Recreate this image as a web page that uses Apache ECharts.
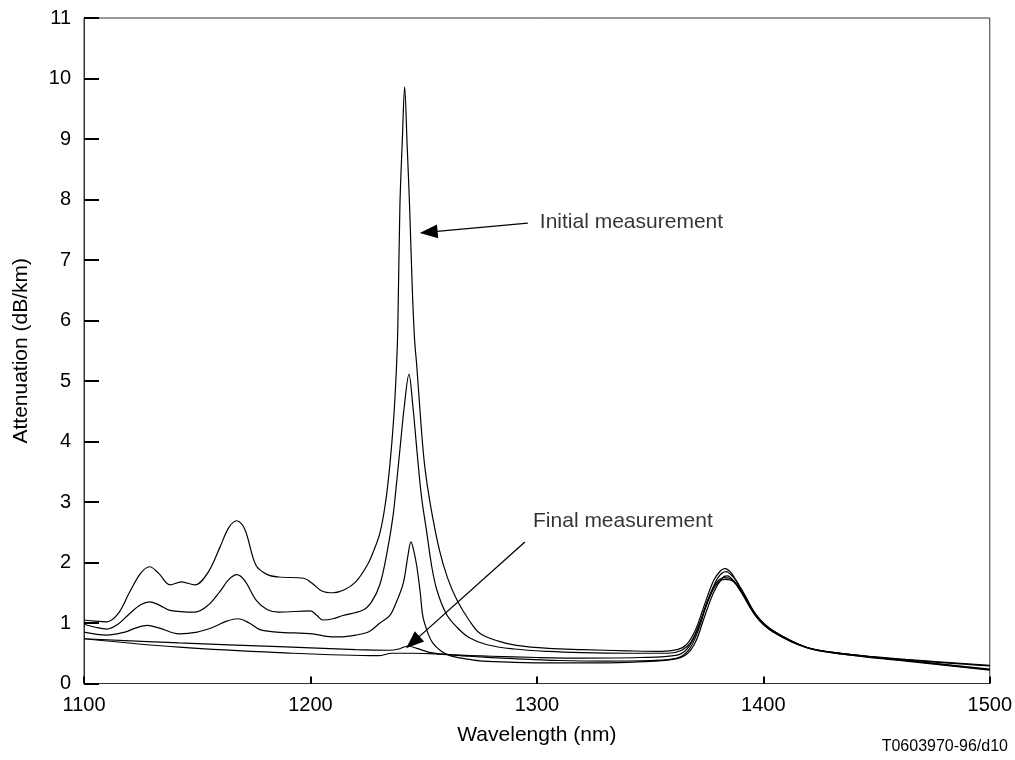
<!DOCTYPE html>
<html>
<head>
<meta charset="utf-8">
<script src="https://cdn.jsdelivr.net/npm/echarts@6/dist/echarts.min.js"></script>
<style>html,body{margin:0;padding:0;background:#fff}#c{width:1015px;height:760px}</style>
</head>
<body>
<div id="c"></div>
<script>
// Wavelength (nm) / attenuation (dB/km) pairs
var initialCurve = [[1100,1.05],[1105,1.03],[1110,1.02],[1115,1.15],[1120,1.5],[1125,1.82],[1129,1.93],[1133,1.82],[1138,1.63],[1143,1.68],[1149,1.63],[1155,1.85],[1160,2.25],[1164,2.58],[1167.5,2.69],[1171,2.55],[1176,1.95],[1181,1.8],[1186,1.76],[1197,1.74],[1201,1.65],[1205,1.53],[1210,1.5],[1215,1.55],[1220,1.68],[1225,1.95],[1228,2.2],[1230.7,2.49],[1233,2.95],[1235,3.58],[1236.8,4.4],[1238,5.23],[1238.6,5.9],[1239.5,7.88],[1240.6,9.0],[1241.6,9.86],[1242.7,8.9],[1243.8,7.88],[1245,6.5],[1246,5.68],[1247,5.23],[1248.8,4.3],[1250.5,3.58],[1253,2.95],[1257,2.2],[1260.5,1.75],[1264.7,1.38],[1270,1.05],[1274.8,0.83],[1283,0.7],[1291,0.63],[1305,0.58],[1320,0.56],[1340,0.54],[1355,0.53],[1362,0.56],[1366,0.64],[1370,0.88],[1374,1.3],[1378,1.7],[1381,1.86],[1383,1.9],[1386,1.82],[1390,1.56],[1397,1.12],[1404,0.88],[1419,0.6],[1434,0.5],[1463,0.4],[1500,0.3]];
var secondCurve = [[1100,0.98],[1105,0.93],[1110,0.9],[1115,0.98],[1120,1.15],[1125,1.3],[1129,1.35],[1133,1.3],[1138,1.21],[1149,1.18],[1155,1.3],[1160,1.52],[1164,1.72],[1167.5,1.8],[1171,1.7],[1176,1.38],[1181,1.22],[1186,1.18],[1200,1.2],[1203,1.12],[1205.5,1.05],[1210,1.07],[1214,1.12],[1223,1.21],[1227,1.35],[1230.7,1.64],[1234,2.2],[1236.4,2.75],[1238,3.3],[1239.5,3.86],[1241.5,4.6],[1243.5,5.11],[1245.2,4.6],[1247,3.86],[1249,3.1],[1251.4,2.49],[1253.5,1.95],[1255.8,1.55],[1260,1.15],[1264.7,0.93],[1270,0.76],[1278,0.64],[1290,0.57],[1305,0.53],[1320,0.51],[1340,0.5],[1358,0.5],[1364,0.55],[1368,0.68],[1372,1.0],[1376,1.42],[1380,1.75],[1383.5,1.85],[1387,1.75],[1390,1.58],[1397,1.13],[1404,0.88],[1419,0.6],[1434,0.5],[1463,0.39],[1500,0.29]];
var thirdCurve = [[1100,0.85],[1110,0.8],[1118,0.85],[1123,0.92],[1128,0.96],[1133,0.92],[1142,0.82],[1150,0.85],[1157,0.93],[1163,1.03],[1168,1.07],[1173,1.0],[1177.7,0.89],[1185,0.85],[1201,0.82],[1207,0.78],[1213,0.77],[1220,0.8],[1226,0.86],[1230.7,1.0],[1235,1.12],[1238,1.35],[1241,1.66],[1243,2.1],[1244.4,2.34],[1245.6,2.2],[1247,1.93],[1248.5,1.5],[1249.7,1.1],[1252,0.82],[1254,0.67],[1257.5,0.54],[1261.6,0.46],[1270,0.4],[1276,0.37],[1290,0.35],[1306,0.34],[1320,0.34],[1340,0.35],[1360,0.4],[1366,0.48],[1370,0.68],[1374,1.1],[1378,1.5],[1382,1.75],[1384,1.78],[1388,1.65],[1392,1.45],[1397,1.1],[1404,0.86],[1419,0.59],[1434,0.49],[1463,0.38],[1500,0.24]];
var fourthCurve = [[1100,0.74],[1142,0.67],[1186,0.61],[1220,0.56],[1235,0.55],[1239,0.57],[1243,0.62],[1247,0.58],[1252,0.52],[1260,0.48],[1280,0.45],[1300,0.43],[1320,0.42],[1345,0.43],[1362,0.47],[1367,0.6],[1371,0.9],[1375,1.33],[1379,1.65],[1383,1.75],[1386,1.72],[1390,1.53],[1397,1.1],[1404,0.87],[1419,0.6],[1434,0.5],[1463,0.38],[1500,0.23]];
var finalCurve = [[1100,0.74],[1142,0.6],[1186,0.51],[1230,0.46],[1236,0.5],[1245,0.5],[1255,0.49],[1270,0.45],[1290,0.41],[1310,0.38],[1330,0.37],[1350,0.38],[1362,0.42],[1367,0.55],[1371,0.85],[1375,1.3],[1379,1.62],[1383,1.72],[1387,1.68],[1390,1.52],[1397,1.1],[1404,0.86],[1419,0.6],[1434,0.49],[1463,0.37],[1500,0.22]];

var xTicks = {min:1100, max:1500, interval:100};
var yTicks = {min:0, max:11, interval:1};

var annotations = [
  {name:'Initial measurement', text:[1301.3,7.63], from:[1296,7.61], to:[1252.2,7.46]},
  {name:'Final measurement', text:[1298.3,2.68], from:[1294.7,2.34], to:[1245.2,0.68]}
];

var FONT = "'Liberation Sans', Arial, Helvetica, sans-serif";
var chart = echarts.init(document.getElementById('c'), null, {renderer:'canvas'});

function curve(d){
  return {type:'line', data:d, showSymbol:false, smooth:0.35,
    lineStyle:{color:'#000', width:1.2}, silent:true, z:3};
}

var series = [initialCurve, secondCurve, thirdCurve, fourthCurve, finalCurve].map(curve);
series.push({
  type:'scatter', symbolSize:0, silent:true, z:5,
  data: annotations.map(function(a){return {name:a.name, value:a.text};}),
  label:{show:true, position:'right', distance:0, formatter:'{b}', color:'#000', fontSize:21, fontFamily:FONT},
  markLine:{
    silent:true, animation:false, symbol:['none','triangle'], symbolSize:[14,18],
    label:{show:false},
    lineStyle:{color:'#000', width:1.3, type:'solid'},
    data: annotations.map(function(a){return [{coord:a.from},{coord:a.to}];})
  }
});

chart.setOption({
  animation:false,
  backgroundColor:'#fff',
  textStyle:{fontFamily:FONT},
  grid:{left:84, right:24.3, top:18, bottom:76.5, show:true, borderColor:'#333', borderWidth:1, containLabel:false},
  xAxis:{
    type:'value', min:xTicks.min, max:xTicks.max, interval:xTicks.interval,
    name:'Wavelength (nm)', nameLocation:'middle', nameGap:41,
    nameTextStyle:{color:'#000', fontSize:21, fontFamily:FONT},
    axisLine:{show:true, lineStyle:{color:'#333', width:1}},
    axisTick:{show:true, inside:true, length:7, lineStyle:{color:'#000', width:2}},
    axisLabel:{color:'#000', fontSize:20, margin:12, fontFamily:FONT, formatter:function(v){return String(v);}},
    splitLine:{show:false}
  },
  yAxis:{
    type:'value', min:yTicks.min, max:yTicks.max, interval:yTicks.interval,
    name:'Attenuation (dB/km)', nameLocation:'middle', nameGap:52, nameRotate:90,
    nameTextStyle:{color:'#000', fontSize:21, fontFamily:FONT},
    axisLine:{show:true, lineStyle:{color:'#333', width:1}},
    axisTick:{show:true, inside:true, length:15, lineStyle:{color:'#000', width:2}},
    axisLabel:{color:'#000', fontSize:20, margin:13, fontFamily:FONT},
    splitLine:{show:false}
  },
  graphic:[{type:'text', right:7, top:739, style:{text:'T0603970-96/d10', fill:'#000', font:'16px ' + FONT}}],
  series:series
});
</script>
</body>
</html>
